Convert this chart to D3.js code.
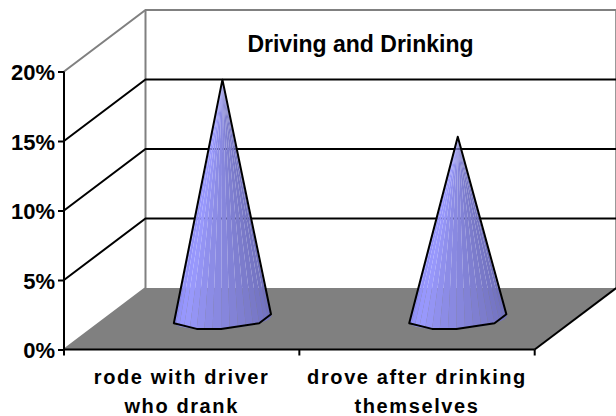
<!DOCTYPE html>
<html><head><meta charset="utf-8">
<script src="https://cdn.jsdelivr.net/npm/d3@7"></script>
<style>html,body{margin:0;padding:0;background:#fff}svg{display:block}text{font-family:"Liberation Sans",Arial,sans-serif;font-weight:bold;fill:#000}</style>
</head><body><svg id="c" width="616" height="416"></svg>
<script>
const categories = [["rode with driver","who drank"],["drove after drinking","themselves"]];
const values = [17.2, 13.1];
const yTicks = [0,5,10,15,20];
const title = "Driving and Drinking";
const outlineAngles = [205,255,285,335,385];
const facetAngles = d3.range(205,386,10);

const m = {l:64,r:534.7,t:71.5,b:349.5}, depth = {dx:81.5,dy:-61.5};
const svg = d3.select("#c");
const y = d3.scaleLinear().domain([0,20]).range([m.b,m.t]);
const x = d3.scaleBand().domain(d3.range(categories.length)).range([m.l,m.r]);
const shade = d3.scaleLinear().domain([205,235,270,320,385]).range(["#8a8af2","#9a9aff","#8c8ce6","#7c7ccc","#6a6ab4"]);
const black = "#000", grey = "#808080";

// floor
svg.append("path").attr("fill",grey).attr("stroke","none")
  .attr("d",d3.line()([[m.l,m.b],[m.r,m.b],[m.r+depth.dx,m.b+depth.dy],[m.l+depth.dx,m.b+depth.dy]]));
// back wall border
svg.append("path").attr("fill","none").attr("stroke",grey).attr("stroke-width",2)
  .attr("d",d3.line()([[m.l,m.t],[m.l+depth.dx,m.t+depth.dy],[m.r+depth.dx,m.t+depth.dy],[m.r+depth.dx,m.b+depth.dy]]));
svg.append("path").attr("fill","none").attr("stroke",grey).attr("stroke-width",2)
  .attr("d",d3.line()([[m.l+depth.dx,m.t+depth.dy],[m.l+depth.dx,m.b+depth.dy],[m.l,m.b]]));
// gridlines
svg.append("g").selectAll("path").data(yTicks.filter(t=>t>0&&t<20)).join("path")
  .attr("fill","none").attr("stroke",black).attr("stroke-width",2)
  .attr("d",t=>d3.line()([[m.l,y(t)],[m.l+depth.dx,y(t)+depth.dy],[m.r+depth.dx,y(t)+depth.dy]]));
// axes
const axL = svg.append("g").attr("transform",`translate(${m.l},0)`).call(d3.axisLeft(y).tickValues(yTicks).tickFormat(d=>d+"%").tickSize(6).tickPadding(3));
axL.selectAll("path,line").attr("stroke",black).attr("stroke-width",2);
axL.selectAll("text").attr("font-size",22).attr("dy","0.37em").style("font-family",'"Liberation Sans",Arial,sans-serif').style("font-weight","bold");
axL.select(".domain").attr("d",`M0,${y(20)}V${y(0)}`);
svg.append("line").attr("x1",m.l).attr("x2",m.r).attr("y1",m.b).attr("y2",m.b).attr("stroke",black).attr("stroke-width",2);
svg.append("g").selectAll("line").data([m.l,m.l+x.bandwidth(),m.r]).join("line")
  .attr("x1",d=>d).attr("x2",d=>d).attr("y1",m.b).attr("y2",m.b+6).attr("stroke",black).attr("stroke-width",2);
svg.append("line").attr("x1",m.r).attr("y1",m.b).attr("x2",m.r+depth.dx).attr("y2",m.b+depth.dy).attr("stroke",black).attr("stroke-width",2);

// cones
const rad = d=>d*Math.PI/180;
const A = x.bandwidth()*0.2, B = 14, H = 10.5;
values.forEach((v,i)=>{
  const cx = x(i)+x.bandwidth()/2+depth.dx/2, cy = m.b+depth.dy/2;
  const apex = [cx,y(v)+depth.dy/2];
  const pt = a=>[cx+A*Math.cos(rad(a))+B*Math.sin(rad(a)), cy-H*Math.sin(rad(a))];
  const g = svg.append("g");
  g.selectAll("path").data(d3.pairs(facetAngles)).join("path")
    .attr("fill",d=>shade((d[0]+d[1])/2)).attr("stroke","none")
    .attr("d",d=>d3.line()([apex,pt(d[0]),pt(d[1])])+"Z");
  g.append("path").attr("fill","none").attr("stroke",black).attr("stroke-width",2).attr("stroke-linejoin","round")
    .attr("d",d3.line()([apex,...outlineAngles.map(pt)])+"Z");
});

// title and category labels
svg.append("text").attr("x",360.5).attr("y",51.7).attr("text-anchor","middle").attr("font-size",23).text(title);
const lab = svg.append("g").selectAll("text").data(categories).join("text")
  .attr("text-anchor","middle").attr("font-size",20).attr("letter-spacing",1.6);
lab.selectAll("tspan").data((d,i)=>d.map(s=>({s,i}))).join("tspan")
  .attr("x",d=>x(d.i)+x.bandwidth()/2).attr("y",(d,j)=>384+j*29).text(d=>d.s);
</script></body></html>
